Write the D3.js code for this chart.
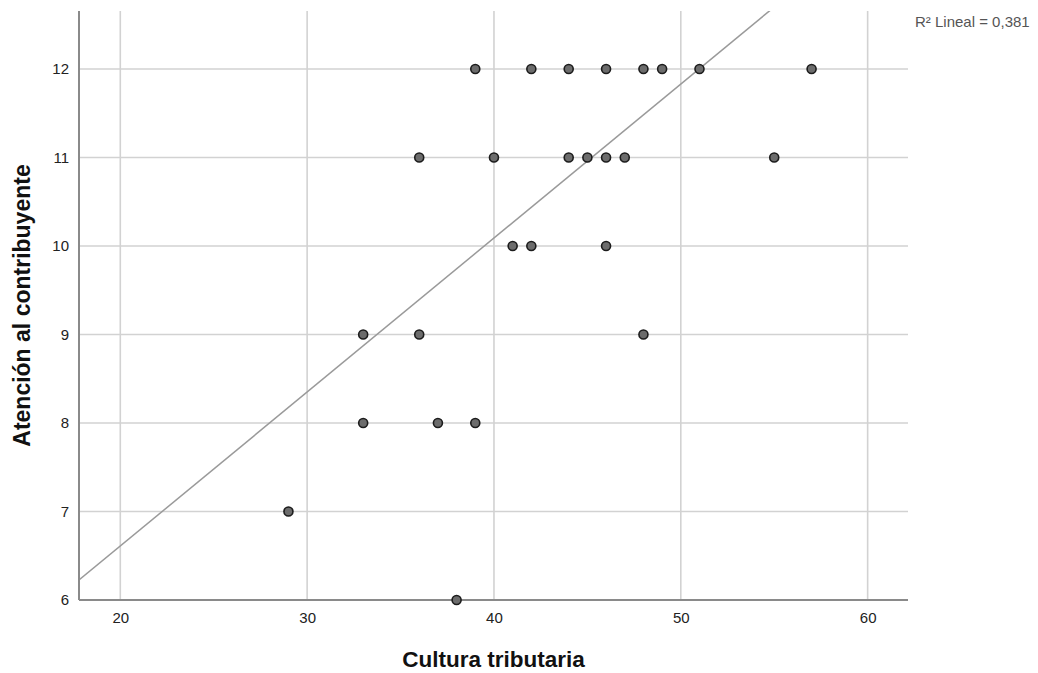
<!DOCTYPE html>
<html><head><meta charset="utf-8">
<script src="https://cdn.jsdelivr.net/npm/d3@7"></script>
<style>html,body{margin:0;padding:0;background:#fff;}svg{display:block;}</style>
</head><body>
<svg id="c" width="1038" height="673"></svg>
<script>
// Data
const xValues = [39,42,44,46,48,49,51,57, 36,40,44,45,46,47,55, 41,42,46, 33,36,48, 33,37,39, 29, 38];
const yValues = [12,12,12,12,12,12,12,12, 11,11,11,11,11,11,11, 10,10,10, 9,9,9, 8,8,8, 7, 6];
const xTicks = [20,30,40,50,60];
const yTicks = [6,7,8,9,10,11,12];
const fitIntercept = 3.13;
const fitSlope = 0.174;
const r2Label = "R² Lineal = 0,381";
const xTitle = "Cultura tributaria";
const yTitle = "Atención al contribuyente";

const svg = d3.select("#c");
const L = 79, R = 908, T = 11, B = 600;
const x = d3.scaleLinear().domain([17.79, 62.16]).range([L, R]);
const y = d3.scaleLinear().domain([6, 12.655]).range([B, T]);
const FONT = "Liberation Sans, Arial, sans-serif";

// gridlines
svg.append("g").selectAll("line").data(xTicks).join("line")
  .attr("x1", d => x(d)).attr("x2", d => x(d)).attr("y1", T).attr("y2", B)
  .attr("stroke", "#d2d2d2").attr("stroke-width", 1.6);
svg.append("g").selectAll("line").data(yTicks.filter(d => d > 6)).join("line")
  .attr("x1", L).attr("x2", R).attr("y1", d => y(d)).attr("y2", d => y(d))
  .attr("stroke", "#d2d2d2").attr("stroke-width", 1.6);

// fit line clipped
svg.append("clipPath").attr("id", "clip").append("rect")
  .attr("x", L).attr("y", T).attr("width", R - L).attr("height", B - T);
const xs = x.domain();
svg.append("line").attr("clip-path", "url(#clip)")
  .attr("x1", x(xs[0])).attr("y1", y(fitIntercept + fitSlope * xs[0]))
  .attr("x2", x(xs[1])).attr("y2", y(fitIntercept + fitSlope * xs[1]))
  .attr("stroke", "#9a9a9a").attr("stroke-width", 1.5);

// axes
const xAxis = svg.append("g").attr("transform", `translate(0,${B})`)
  .call(d3.axisBottom(x).tickValues(xTicks).tickFormat(d3.format("d")).tickSize(0).tickPadding(12));
const yAxis = svg.append("g").attr("transform", `translate(${L},0)`)
  .call(d3.axisLeft(y).tickValues(yTicks).tickFormat(d3.format("d")).tickSize(0).tickPadding(10));
[xAxis, yAxis].forEach(g => {
  g.select(".domain").attr("stroke", "#8a8a8a").attr("stroke-width", 2);
  g.selectAll("text").attr("font-family", FONT)
    .attr("font-size", 15).attr("fill", "#222");
});
xAxis.select(".domain").attr("d", `M${L},0H${R}`);
yAxis.select(".domain").attr("d", `M0,${T}V${B}`);

// points
svg.append("g").selectAll("circle").data(xValues.map((v, i) => [v, yValues[i]])).join("circle")
  .attr("cx", d => x(d[0])).attr("cy", d => y(d[1])).attr("r", 4.5)
  .attr("fill", "#6c6c6c").attr("stroke", "#1c1c1c").attr("stroke-width", 1.6);

// titles
svg.append("text").attr("x", (L + R) / 2).attr("y", 667).attr("text-anchor", "middle")
  .attr("font-family", FONT).attr("font-weight", "bold")
  .attr("font-size", 22.5).attr("fill", "#111").text(xTitle);
svg.append("text").attr("transform", `translate(30,${(T + B) / 2}) rotate(-90)`)
  .attr("text-anchor", "middle")
  .attr("font-family", FONT).attr("font-weight", "bold")
  .attr("font-size", 23).attr("fill", "#111").text(yTitle);
svg.append("text").attr("x", 915).attr("y", 27)
  .attr("font-family", FONT)
  .attr("font-size", 15).attr("fill", "#555").text(r2Label);
</script>
</body></html>
